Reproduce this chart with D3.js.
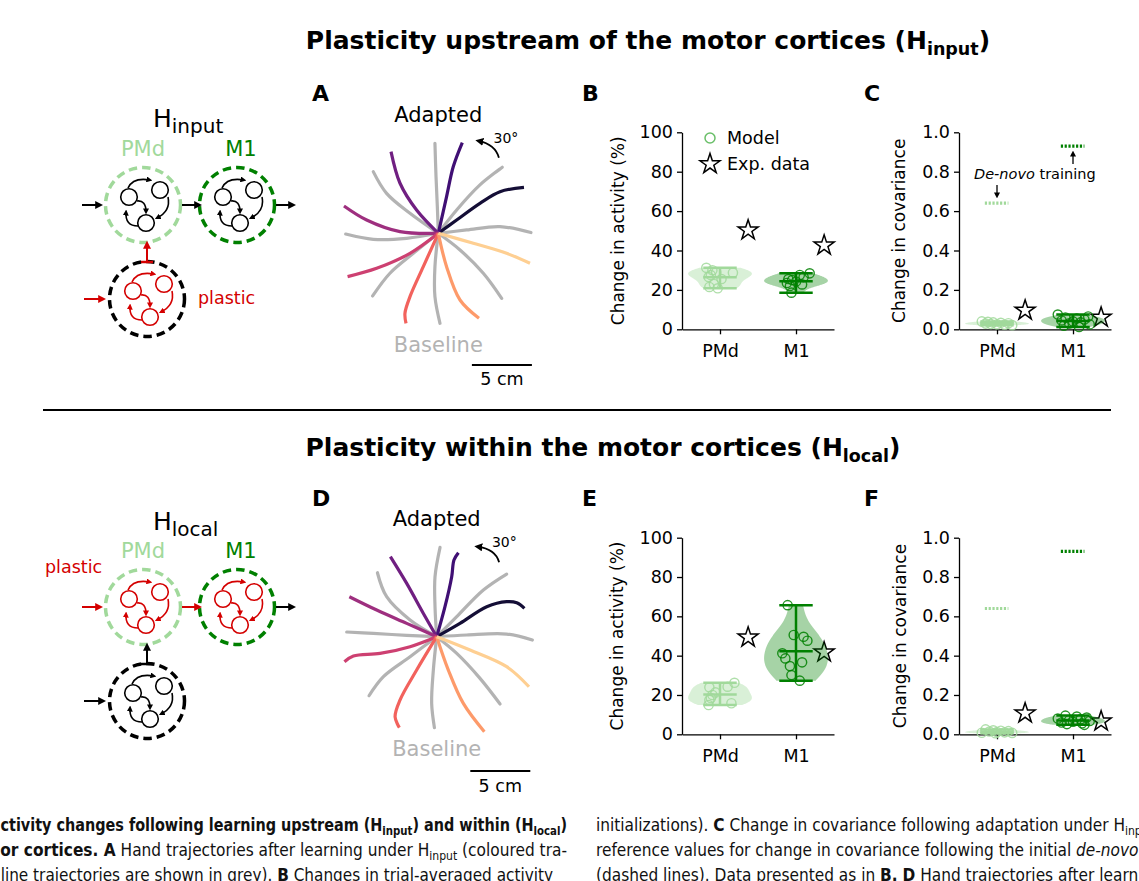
<!DOCTYPE html>
<html><head><meta charset="utf-8">
<script src="https://cdn.jsdelivr.net/npm/d3@7"></script>
<style>body{margin:0;background:#fff}svg{display:block}text{font-family:"DejaVu Sans",sans-serif}</style>
</head><body>
<script>
// ---------------- DATA ----------------
const regions = ["PMd", "M1"];
const activityTicks = [0, 20, 40, 60, 80, 100];
const covTicks = [0, 0.2, 0.4, 0.6, 0.8, 1.0];

// Panel B (H_input, change in activity %)
const inputActPMd = [31.2, 30.0, 29.0, 28.7, 27.5, 26.5, 25.5, 23.0, 21.5, 20.8];
const inputActPMdJit = [-0.18, -0.1, -0.05, 0.17, -0.12, -0.15, 0.02, -0.08, -0.14, -0.03];
const inputActM1 = [28.4, 27.6, 26.5, 25.5, 25.0, 24.2, 23.5, 22.8, 22.0, 18.6];
const inputActM1Jit = [0.18, 0.05, 0.1, -0.1, -0.05, 0.0, -0.12, 0.08, -0.08, -0.06];
const expActInput = [50.3, 42.6];

// Panel C (H_input, change in covariance)
const inputCovPMd = [0.040, 0.038, 0.035, 0.033, 0.031, 0.029, 0.027, 0.025, 0.023, 0.021];
const inputCovPMdJit = [-0.2, -0.12, -0.05, 0.05, 0.15, -0.15, -0.08, 0.0, 0.1, 0.2];
const inputCovM1 = [0.075, 0.065, 0.060, 0.055, 0.050, 0.045, 0.040, 0.035, 0.030, 0.025, 0.018, 0.012];
const inputCovM1Jit = [-0.2, 0.2, -0.1, 0.05, 0.15, -0.15, 0.0, 0.1, -0.05, 0.22, -0.12, 0.08];
const expCovInput = [0.096, 0.060];
const deNovoCov = [0.64, 0.93];

// Panel E (H_local, change in activity %)
const localActPMd = [26.2, 24.2, 23.9, 21.3, 20.0, 18.5, 17.5, 15.8, 14.9];
const localActPMdJit = [0.19, 0.1, -0.14, -0.06, -0.1, -0.12, -0.14, 0.15, -0.15];
const localActM1 = [65.7, 50.5, 49.6, 47.6, 41.2, 38.6, 36.6, 34.7, 30.1, 27.3];
const localActM1Jit = [-0.11, -0.03, 0.1, 0.15, -0.18, -0.14, 0.08, -0.08, -0.06, 0.05];
const expActLocal = [49.3, 41.7];

// Panel F (H_local, change in covariance)
const localCovPMd = [0.025, 0.020, 0.018, 0.016, 0.014, 0.012, 0.010, 0.008, 0.007, 0.005];
const localCovPMdJit = [-0.15, -0.05, 0.05, 0.15, -0.1, 0.0, 0.1, -0.2, 0.2, -0.02];
const localCovM1 = [0.095, 0.090, 0.085, 0.080, 0.076, 0.072, 0.068, 0.064, 0.060, 0.056, 0.052, 0.048];
const localCovM1Jit = [-0.1, 0.05, 0.18, -0.2, 0.1, -0.05, 0.22, 0.0, -0.15, 0.12, -0.08, 0.15];
const expCovLocal = [0.107, 0.066];

// Hand trajectories (cm, origin = start position)
const baselineTrajA = [
  [[0,0],[-0.08,2.22],[-0.19,4.72],[-0.28,7.5]],
  [[0,0],[1.53,1.94],[3.47,4.03],[5.33,5.5]],
  [[0,0],[2.36,0.28],[5.14,0.56],[7.72,0.06]],
  [[0,0],[1.81,-1.39],[3.75,-3.33],[5.28,-5.42]],
  [[0,0],[-0.28,-2.78],[-0.28,-5.28],[0.14,-7.5]],
  [[0,0],[-2.08,-1.67],[-4.03,-3.33],[-5.47,-5.22]],
  [[0,0],[-2.64,-0.42],[-5.42,-0.5],[-7.72,-0.06]],
  [[0,0],[-2.36,1.67],[-4.31,3.33],[-5.42,5.14]]
];
const adaptedTrajA = [
  [[0,0],[1.53,1.11],[3.47,2.5],[5.14,3.47],[7.14,3.83]],
  [[0,0],[0.69,3.06],[1.25,5.56],[2.0,7.56]],
  [[0,0],[-1.81,1.94],[-3.19,4.17],[-3.94,6.81]],
  [[0,0],[-3.19,0.14],[-5.97,1.11],[-7.86,2.28]],
  [[0,0],[-2.36,-1.67],[-5.14,-2.92],[-7.56,-3.61]],
  [[0,0],[-1.25,-2.78],[-2.36,-5.28],[-2.78,-6.67],[-2.69,-7.5]],
  [[0,0],[0.69,-2.78],[1.81,-5.56],[3.39,-7.08]],
  [[0,0],[2.92,-0.83],[5.69,-1.67],[7.64,-2.5]]
];
const baselineTrajD = [
  [[0,0],[-0.14,2.5],[-0.14,5.0],[0.28,7.44]],
  [[0,0],[1.67,1.67],[3.89,3.89],[5.83,5.22]],
  [[0,0],[2.5,0.14],[5.83,0.22],[7.97,-0.28]],
  [[0,0],[1.67,-1.39],[3.61,-3.47],[5.28,-5.61]],
  [[0,0],[-0.28,-2.78],[-0.42,-5.56],[-0.19,-7.58]],
  [[0,0],[-2.22,-1.67],[-4.44,-3.33],[-5.64,-4.92]],
  [[0,0],[-2.5,0.11],[-5.28,0.28],[-7.5,0.39]],
  [[0,0],[-2.22,1.39],[-4.17,3.33],[-4.94,5.33]]
];
const adaptedTrajD = [
  [[0,0],[1.94,1.11],[4.17,2.5],[5.83,2.92],[6.67,2.83],[7.31,2.36]],
  [[0,0],[0.69,2.5],[1.25,5.0],[1.44,6.39],[1.81,7.0]],
  [[0,0],[-1.11,1.94],[-2.5,4.44],[-3.86,6.67]],
  [[0,0],[-2.5,1.11],[-5.0,2.22],[-7.28,3.33]],
  [[0,0],[-2.22,-0.83],[-4.72,-1.39],[-6.94,-1.61],[-7.69,-2.08]],
  [[0,0],[-1.67,-2.78],[-3.06,-5.28],[-3.47,-6.67],[-3.11,-7.58]],
  [[0,0],[0.97,-2.78],[2.22,-5.56],[3.97,-7.92]],
  [[0,0],[2.78,-1.11],[5.83,-2.5],[7.69,-4.17]]
];
const scaleBarCm = 5;
const rotationLabel = "30°";

// ---------------- STYLE ----------------
const cPMd = "#a1d99b", cM1 = "#008000", cRed = "#d40000", cGrey = "#b3b3b3";
const W = 1139, H = 881;
const svg = d3.select("body").append("svg").attr("width", W).attr("height", H);
svg.append("rect").attr("width", W).attr("height", H).attr("fill", "#fff");
const defs = svg.append("defs");
function marker(id, color, size, refX) {
  defs.append("marker").attr("id", id).attr("viewBox", "0 0 10 10")
    .attr("refX", refX).attr("refY", 5).attr("markerWidth", size).attr("markerHeight", size)
    .attr("markerUnits", "userSpaceOnUse").attr("orient", "auto")
    .append("path").attr("d", "M0,0 L10,5 L0,10 z").attr("fill", color);
}
marker("ahk", "#000", 8, 6); marker("ahr", cRed, 8, 6);
marker("ahks", "#000", 6, 6); marker("ahrs", cRed, 6, 6);

// ---------------- TITLES ----------------
function title(x, y, main, sub) {
  const t = svg.append("text").attr("x", x).attr("y", y).attr("text-anchor", "middle")
    .attr("font-size", 25).attr("font-weight", "bold");
  t.append("tspan").text(main);
  t.append("tspan").attr("font-size", 17.5).attr("dy", 6).text(sub);
  t.append("tspan").attr("dy", -6).text(")");
}
title(648, 49, "Plasticity upstream of the motor cortices (H", "input");
title(603, 456, "Plasticity within the motor cortices (H", "local");
svg.append("line").attr("x1", 43).attr("x2", 1111).attr("y1", 410).attr("y2", 410)
  .attr("stroke", "#000").attr("stroke-width", 2);

[["A",312,101],["B",582,101],["C",864,101],["D",312,506],["E",582,506],["F",864,506]].forEach(([l,x,y]) =>
  svg.append("text").attr("x", x).attr("y", y).attr("font-size", 22).attr("font-weight", "bold").text(l));

// ---------------- NETWORK DIAGRAMS ----------------
function motif(g, cx, cy, color, mk) {
  const nodes = [[-14,-8],[17,-15],[3,18]];
  nodes.forEach(([dx,dy]) => g.append("circle").attr("cx", cx+dx).attr("cy", cy+dy).attr("r", 8.3)
    .attr("fill", "#fff").attr("stroke", color).attr("stroke-width", 1.6));
  const arcs = [
    [[-15,-17],[-10,-28],[7,-25]],
    [[-6,-4],[3,-5],[3,7]],
    [[25,-8],[28,6],[14,13]],
    [[-5,21],[-18,21],[-17,7]]
  ];
  arcs.forEach(([a,c,b]) => g.append("path")
    .attr("d", `M${cx+a[0]},${cy+a[1]} Q${cx+c[0]},${cy+c[1]} ${cx+b[0]},${cy+b[1]}`)
    .attr("fill", "none").attr("stroke", color).attr("stroke-width", 1.6).attr("marker-end", `url(#${mk})`));
}
function bigCircle(g, cx, cy, color) {
  g.append("circle").attr("cx", cx).attr("cy", cy).attr("r", 37.5).attr("fill", "none")
    .attr("stroke", color).attr("stroke-width", 3.5).attr("stroke-dasharray", "8.5 5");
}
function arrow(g, x1, y1, x2, y2, color, mk) {
  g.append("line").attr("x1", x1).attr("y1", y1).attr("x2", x2).attr("y2", y2)
    .attr("stroke", color).attr("stroke-width", 2).attr("marker-end", `url(#${mk})`);
}
function network(oy, hSub, hY, plasticUpstream) {
  const g = svg.append("g");
  const t = g.append("text").attr("x", 153).attr("y", hY).attr("font-size", 25);
  t.append("tspan").text("H");
  t.append("tspan").attr("font-size", 20).attr("dy", 6).text(hSub);
  const pY = oy, lY = oy + 94;
  g.append("text").attr("x", 143).attr("y", pY - 49).attr("text-anchor", "middle").attr("font-size", 21).attr("fill", cPMd).text("PMd");
  g.append("text").attr("x", 241).attr("y", pY - 49).attr("text-anchor", "middle").attr("font-size", 21).attr("fill", cM1).text("M1");
  bigCircle(g, 143, pY, cPMd);
  bigCircle(g, 237, pY, cM1);
  bigCircle(g, 147, lY, "#000");
  const upC = plasticUpstream ? "#000" : cRed, upM = plasticUpstream ? "ahks" : "ahrs";
  const loC = plasticUpstream ? cRed : "#000", loM = plasticUpstream ? "ahrs" : "ahks";
  motif(g, 143, pY, upC, upM);
  motif(g, 237, pY, upC, upM);
  motif(g, 147, lY, loC, loM);
  arrow(g, 82, pY, 100, pY, upC, plasticUpstream ? "ahk" : "ahr");
  arrow(g, 182, pY, 199, pY, upC, plasticUpstream ? "ahk" : "ahr");
  arrow(g, 276, pY, 293, pY, "#000", "ahk");
  arrow(g, 147, lY - 37, 147, pY + 39, loC, plasticUpstream ? "ahr" : "ahk");
  g.append("line").attr("x1", 141).attr("x2", 153).attr("y1", lY - 37).attr("y2", lY - 37).attr("stroke", loC).attr("stroke-width", 2.5);
  arrow(g, 84, lY, 103, lY, loC, plasticUpstream ? "ahr" : "ahk");
  if (plasticUpstream) {
    g.append("text").attr("x", 198).attr("y", lY + 5).attr("font-size", 17.5).attr("fill", cRed).text("plastic");
  } else {
    g.append("text").attr("x", 45).attr("y", pY - 34).attr("font-size", 17.5).attr("fill", cRed).text("plastic");
  }
}
network(205, "input", 127, true);
network(607, "local", 530, false);

// ---------------- TRAJECTORIES ----------------
function trajPanel(cx, cy, base, adapted, barY, arrowPts) {
  const g = svg.append("g");
  const x = d3.scaleLinear().domain([0, 1]).range([cx, cx + 12]);
  const y = d3.scaleLinear().domain([0, 1]).range([cy, cy - 12]);
  const line = d3.line().x(d => x(d[0])).y(d => y(d[1])).curve(d3.curveCatmullRom.alpha(0.5));
  base.forEach(tr => g.append("path").attr("d", line(tr)).attr("fill", "none").attr("stroke", cGrey)
    .attr("stroke-width", 3.2).attr("stroke-linecap", "round"));
  adapted.forEach((tr, i) => g.append("path").attr("d", line(tr)).attr("fill", "none")
    .attr("stroke", d3.interpolateMagma(0.1 + i * 0.8 / 7)).attr("stroke-width", 3.2).attr("stroke-linecap", "butt"));
  g.append("text").attr("x", x(0)).attr("y", y(9.25)).attr("text-anchor", "middle").attr("font-size", 21).text("Adapted");
  g.append("text").attr("x", x(0)).attr("y", y(-9.9)).attr("text-anchor", "middle").attr("font-size", 21).attr("fill", cGrey).text("Baseline");
  g.append("line").attr("x1", x(2.8)).attr("x2", x(2.8 + scaleBarCm)).attr("y1", y(barY)).attr("y2", y(barY))
    .attr("stroke", "#000").attr("stroke-width", 2);
  g.append("text").attr("x", x(2.8 + scaleBarCm / 2)).attr("y", y(barY - 1.7)).attr("text-anchor", "middle")
    .attr("font-size", 17.5).text(scaleBarCm + " cm");
  const [p0, pc, p1] = arrowPts;
  g.append("path").attr("d", `M${x(p0[0])},${y(p0[1])} Q${x(pc[0])},${y(pc[1])} ${x(p1[0])},${y(p1[1])}`)
    .attr("fill", "none").attr("stroke", "#000").attr("stroke-width", 1.8).attr("marker-end", "url(#ahk)");
  g.append("text").attr("x", x(4.6)).attr("y", y(7.5)).attr("font-size", 14).text(rotationLabel);
}
trajPanel(438.3, 233.3, baselineTrajA, adaptedTrajA, -10.97, [[5.05,6.3],[4.75,7.4],[3.35,7.7]]);
trajPanel(436.7, 636.7, baselineTrajD, adaptedTrajD, -11.2, [[5.2,6.2],[4.9,7.3],[3.4,7.5]]);

// ---------------- VIOLIN PANELS ----------------
function kde(vals, n) {
  const sd = d3.deviation(vals);
  const bw = sd * Math.pow(vals.length, -1 / 5);
  const lo = d3.min(vals), hi = d3.max(vals);
  return d3.range(n).map(i => {
    const v = lo + (hi - lo) * i / (n - 1);
    return [v, d3.mean(vals, u => Math.exp(-0.5 * ((v - u) / bw) ** 2))];
  });
}
function statPanel(o) {
  const g = svg.append("g");
  const x = d3.scaleLinear().domain([-0.5, 1.5]).range(o.xr);
  const y = d3.scaleLinear().domain([0, o.ymax]).range(o.yr);
  const ax = g.append("g").attr("transform", `translate(${o.xr[0]},0)`)
    .call(d3.axisLeft(y).tickValues(o.ticks).tickFormat(o.fmt).tickSize(5).tickPadding(4).tickSizeOuter(0));
  const bx = g.append("g").attr("transform", `translate(0,${o.yr[0]})`)
    .call(d3.axisBottom(x).tickValues([0, 1]).tickFormat(i => regions[i]).tickSize(5).tickPadding(10).tickSizeOuter(0));
  [ax, bx].forEach(a => {
    a.selectAll("text").attr("font-size", 17.5).attr("fill", "#000").attr("font-family", "DejaVu Sans");
    a.select(".domain").attr("stroke", "#000").attr("stroke-width", 1.3);
    a.selectAll(".tick line").attr("stroke", "#000").attr("stroke-width", 1.3);
  });
  g.append("text").attr("transform", `translate(${o.labelX},${(o.yr[0] + o.yr[1]) / 2}) rotate(-90)`)
    .attr("text-anchor", "middle").attr("font-size", 17).text(o.ylabel);
  const colors = [cPMd, cM1];
  if (o.deNovo) o.deNovo.forEach((v, i) => g.append("line").attr("x1", x(i - 0.16)).attr("x2", x(i + 0.15))
    .attr("y1", y(v)).attr("y2", y(v)).attr("stroke", colors[i]).attr("stroke-width", 3.2).attr("stroke-dasharray", "2.2 1.6"));
  const star = d3.symbol().type(d3.symbolStar).size(125);
  o.exp.forEach((v, i) => g.append("path").attr("d", star()).attr("transform", `translate(${x(i + 0.37)},${y(v)})`)
    .attr("fill", "#fff").attr("stroke", "#000").attr("stroke-width", 1.5));
  [o.pmd, o.m1].forEach((vals, i) => {
    const d = kde(vals, 100), mx = d3.max(d, e => e[1]);
    g.append("path").datum(d).attr("d", d3.area().y(e => y(e[0]))
      .x0(e => x(i - 0.42 * e[1] / mx)).x1(e => x(i + 0.42 * e[1] / mx)))
      .attr("fill", colors[i]).attr("fill-opacity", i === 0 ? 0.4 : 0.35);
  });
  [[o.pmd, o.pmdJit], [o.m1, o.m1Jit]].forEach(([vals, jit], i) => {
    vals.forEach((v, k) => g.append("circle").attr("cx", x(i + jit[k])).attr("cy", y(v)).attr("r", 4.6)
      .attr("fill", "none").attr("stroke", colors[i]).attr("stroke-width", 1.4).attr("stroke-opacity", 0.85));
  });
  [o.pmd, o.m1].forEach((vals, i) => {
    const lo = d3.min(vals), hi = d3.max(vals), mn = d3.mean(vals);
    g.append("line").attr("x1", x(i)).attr("x2", x(i)).attr("y1", y(lo)).attr("y2", y(hi))
      .attr("stroke", colors[i]).attr("stroke-width", 2.5);
    [lo, mn, hi].forEach(v => g.append("line").attr("x1", x(i - 0.22)).attr("x2", x(i + 0.22))
      .attr("y1", y(v)).attr("y2", y(v)).attr("stroke", colors[i]).attr("stroke-width", 2.5));
  });
  return { g, x, y };
}
const fmtInt = d3.format("d"), fmt1 = d3.format(".1f");
const B = statPanel({ xr: [682, 834], yr: [329.3, 132.3], ymax: 100, ticks: activityTicks, fmt: fmtInt,
  ylabel: "Change in activity (%)", labelX: 624, pmd: inputActPMd, pmdJit: inputActPMdJit,
  m1: inputActM1, m1Jit: inputActM1Jit, exp: expActInput });
const C = statPanel({ xr: [959, 1111], yr: [329.3, 132.3], ymax: 1, ticks: covTicks, fmt: fmt1,
  ylabel: "Change in covariance", labelX: 905, pmd: inputCovPMd, pmdJit: inputCovPMdJit,
  m1: inputCovM1, m1Jit: inputCovM1Jit, exp: expCovInput, deNovo: deNovoCov });
statPanel({ xr: [682, 834], yr: [734.3, 537.7], ymax: 100, ticks: activityTicks, fmt: fmtInt,
  ylabel: "Change in activity (%)", labelX: 623, pmd: localActPMd, pmdJit: localActPMdJit,
  m1: localActM1, m1Jit: localActM1Jit, exp: expActLocal });
statPanel({ xr: [959, 1111], yr: [734.3, 537.7], ymax: 1, ticks: covTicks, fmt: fmt1,
  ylabel: "Change in covariance", labelX: 906, pmd: localCovPMd, pmdJit: localCovPMdJit,
  m1: localCovM1, m1Jit: localCovM1Jit, exp: expCovLocal, deNovo: deNovoCov });

// legend in B
B.g.append("circle").attr("cx", 710).attr("cy", 138).attr("r", 5).attr("fill", "none").attr("stroke", "#6abf69").attr("stroke-width", 1.5);
B.g.append("text").attr("x", 727).attr("y", 144).attr("font-size", 17.5).text("Model");
B.g.append("path").attr("d", d3.symbol().type(d3.symbolStar).size(125)()).attr("transform", "translate(710,164)")
  .attr("fill", "#fff").attr("stroke", "#000").attr("stroke-width", 1.5);
B.g.append("text").attr("x", 727).attr("y", 170).attr("font-size", 17.5).text("Exp. data");

// De-novo annotation in C
const ann = C.g.append("text").attr("x", 974).attr("y", 179).attr("font-size", 14.5);
ann.append("tspan").attr("font-style", "italic").text("De-novo");
ann.append("tspan").text(" training");
C.g.append("line").attr("x1", C.x(0)).attr("x2", C.x(0)).attr("y1", 185).attr("y2", 196).attr("stroke", "#000").attr("stroke-width", 1.3).attr("marker-end", "url(#ahks)");
C.g.append("line").attr("x1", C.x(1)).attr("x2", C.x(1)).attr("y1", 164).attr("y2", 153).attr("stroke", "#000").attr("stroke-width", 1.3).attr("marker-end", "url(#ahks)");

// ---------------- CAPTION ----------------
function capLine(x, y, parts, anchor) {
  const g = svg.append("g");
  const t = g.append("text").attr("font-family", "Liberation Sans, Arial, sans-serif").attr("font-size", 17)
    .attr("text-anchor", anchor).attr("fill", "#111");
  let shift = 0;
  parts.forEach(([s, st]) => {
    const sp = t.append("tspan").text(s);
    const isSub = st.indexOf("sub") >= 0;
    if (isSub && shift === 0) { sp.attr("dy", 4); shift = 4; sp.attr("font-size", 12); }
    else if (!isSub && shift !== 0) { sp.attr("dy", -4); shift = 0; }
    else if (isSub) sp.attr("font-size", 12);
    if (st.indexOf("b") === 0) sp.attr("font-weight", "bold");
    if (st === "i") sp.attr("font-style", "italic");
  });
  return { g, t, x, y };
}
const capR2 = capLine(596, 880, [["reference values for change in covariance following the initial ", "n"], ["de-novo", "i"]], "start");
const capS = 543 / capR2.t.node().getComputedTextLength();
capR2.g.remove();
// left column: each line fitted to its visible width (starts clipped at x = 0)
const leftCaps = [
  [capLine(567, 831, [["ctivity changes following learning upstream (H", "b"], ["input", "bsub"], [") and within (H", "b"], ["local", "bsub"], [")", "b"]], "end"), 567],
  [capLine(567, 856, [["or cortices. A", "b"], [" Hand trajectories after learning under H", "n"], ["input", "sub"], [" (coloured tra-", "n"]], "end"), 567],
  [capLine(553, 881, [["line trajectories are shown in grey). ", "n"], ["B", "b"], [" Changes in trial-averaged activity", "n"]], "end"), 553]
];
leftCaps.forEach(([c, w]) => {
  const s = w / c.t.node().getComputedTextLength();
  c.g.attr("transform", `translate(${c.x},${c.y}) scale(${s},1)`);
});
const rightCaps = [
  capLine(596, 831, [["initializations). ", "n"], ["C", "b"], [" Change in covariance following adaptation under H", "n"], ["input", "sub"], [" (dots) and", "n"]], "start"),
  capLine(596, 856, [["reference values for change in covariance following the initial ", "n"], ["de-novo", "i"], [" training", "n"]], "start"),
  capLine(596, 881, [["(dashed lines). Data presented as in ", "n"], ["B.", "b"], [" ", "n"], ["D", "b"], [" Hand trajectories after learning under H", "n"], ["local", "sub"]], "start")
];
rightCaps.forEach(c => c.g.attr("transform", `translate(${c.x},${c.y}) scale(${capS},1)`));
</script>
</body></html>
